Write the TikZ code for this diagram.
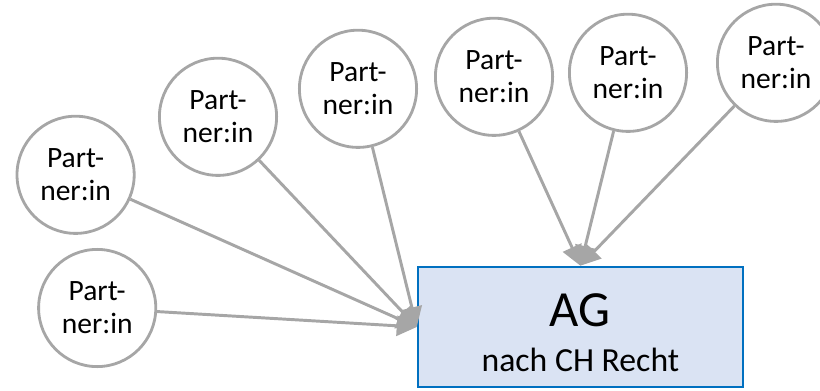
\documentclass[tikz,border=0pt]{standalone}
\usepackage{fontspec}
\setmainfont{Carlito}
\usepackage{tikz}
\usetikzlibrary{arrows.meta}
\definecolor{edgegray}{HTML}{A6A6A6}
\definecolor{agfill}{HTML}{DAE3F3}
\definecolor{agblue}{HTML}{0070C0}

\begin{document}
\begin{tikzpicture}[auto,
		node_style/.style={circle,draw=edgegray,line width=2pt,fill=white,minimum size=2.93cm,inner sep=0pt,align=center,font=\fontsize{21}{23.5}\selectfont},
		box_style/.style={rectangle,draw=agblue,line width=1.8pt,fill=agfill,minimum width=8.12cm,minimum height=3cm,align=center},
		edge_style/.style={color=edgegray,line width=2.1pt,-{Triangle[length=5mm,width=5mm]}}]

		\useasboundingbox (0,0) rectangle (20.5,9.75);

		\node[box_style] (ag) at (14.51,1.575) {{\fontsize{36}{40}\selectfont\rule{0pt}{31.5pt}AG}\\[14.5pt]{\fontsize{24}{28}\selectfont nach CH Recht}};

		\node[node_style] (p1) at (2.43,2.05)  {Part-\\ner:in};
		\node[node_style] (p2) at (1.89,5.38)  {Part-\\ner:in};
		\node[node_style] (p3) at (5.45,6.83)  {Part-\\ner:in};
		\node[node_style] (p4) at (8.95,7.53)  {Part-\\ner:in};
		\node[node_style] (p5) at (12.35,7.83)  {Part-\\ner:in};
		\node[node_style] (p6) at (15.7,7.93)  {Part-\\ner:in};
		\node[node_style] (p7) at (19.4,8.18)  {Part-\\ner:in};

		\draw[edge_style]  (p1) edge (ag.west);
		\draw[edge_style]  (p2) edge (ag.west);
		\draw[edge_style]  (p3) edge (ag.west);
		\draw[edge_style]  (p4) edge (ag.west);
		\draw[edge_style]  (p5) edge (ag.north);
		\draw[edge_style]  (p6) edge (ag.north);
		\draw[edge_style]  (p7) edge (ag.north);
\end{tikzpicture}
\end{document}
